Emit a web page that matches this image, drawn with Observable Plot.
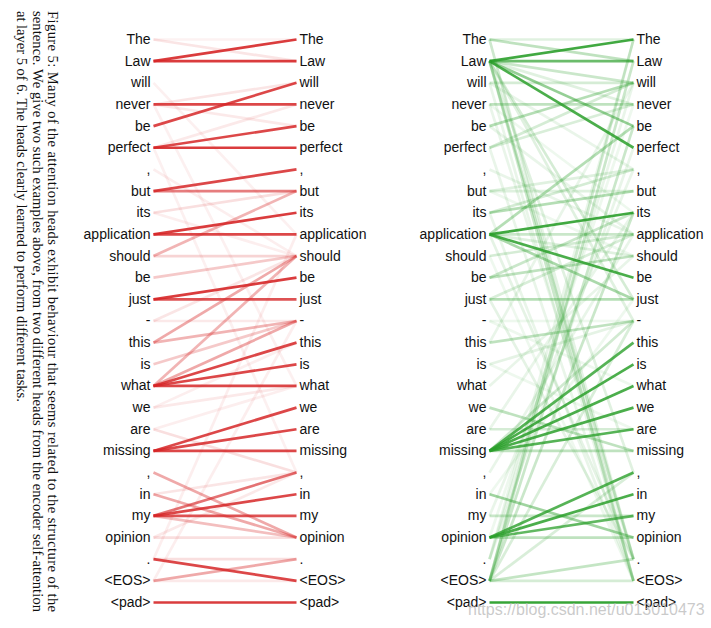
<!DOCTYPE html>
<html>
<head>
<meta charset="utf-8">
<script src="https://cdn.jsdelivr.net/npm/d3@7"></script>
<script src="https://cdn.jsdelivr.net/npm/@observablehq/plot@0.6"></script>
<style>
  html, body { margin: 0; padding: 0; background: #fff; }
  #wrap { position: relative; width: 711px; height: 628px; overflow: hidden; background: #fff; }
  #caption { position: absolute; left: 0; top: 0; }
  #left, #right { position: absolute; top: 0; }
  #left { left: 0; }
  #right { left: 396px; }
  #wm { position: absolute; left: 468px; top: 601px; font-family: "Liberation Sans", Arial, sans-serif;
        font-size: 16px; color: rgba(185,185,185,0.75); white-space: nowrap; }
</style>
</head>
<body>
<div id="wrap">
  <svg id="caption" width="64" height="628"></svg>
  <div id="left"></div>
  <div id="right"></div>
  <div id="wm"></div>
</div>
<script>
// ---- data ----
const tokens = ["The", "Law", "will", "never", "be", "perfect", ",", "but", "its", "application",
  "should", "be", "just", "-", "this", "is", "what", "we", "are", "missing", ",", "in", "my",
  "opinion", ".", "<EOS>", "<pad>"];
const sides = ["source", "target"];

// [source token index, target token index, attention weight]
const redLinks = [
  [0, 1, 0.12], [0, 0, 0.06], [1, 0, 0.9], [1, 1, 0.9],
  [3, 3, 0.85], [3, 2, 0.12], [3, 4, 0.1], [3, 16, 0.07], [2, 9, 0.07],
  [4, 2, 0.85], [5, 4, 0.85], [5, 5, 0.9], [5, 3, 0.1], [5, 20, 0.07],
  [6, 10, 0.08], [7, 6, 0.85], [7, 7, 0.6], [8, 7, 0.15], [8, 10, 0.08],
  [9, 8, 0.9], [9, 9, 0.85], [10, 10, 0.2], [10, 7, 0.35], [11, 10, 0.25],
  [12, 11, 0.9], [12, 12, 0.8], [13, 13, 0.1], [13, 10, 0.12],
  [14, 13, 0.35], [14, 10, 0.4], [15, 13, 0.25],
  [16, 13, 0.4], [16, 14, 0.85], [16, 15, 0.85], [16, 16, 0.85], [16, 10, 0.35],
  [17, 16, 0.1], [17, 14, 0.08], [18, 20, 0.15], [18, 16, 0.08],
  [19, 17, 0.85], [19, 18, 0.85], [19, 19, 0.85],
  [20, 23, 0.4], [21, 23, 0.4], [21, 20, 0.12],
  [22, 20, 0.65], [22, 21, 0.85], [22, 22, 0.8], [22, 23, 0.3],
  [23, 23, 0.15], [23, 20, 0.1], [24, 25, 0.85], [24, 24, 0.15], [24, 9, 0.08],
  [25, 24, 0.4], [25, 25, 0.1], [25, 13, 0.08], [26, 26, 0.9]
];

const greenLinks = [
  [0, 1, 0.3], [0, 0, 0.15], [0, 24, 0.12], [0, 25, 0.12],
  [1, 0, 0.9], [1, 1, 0.7], [1, 4, 0.5], [1, 5, 0.85], [1, 2, 0.25], [1, 3, 0.15],
  [1, 12, 0.2], [1, 13, 0.15], [1, 20, 0.15], [1, 24, 0.25], [1, 25, 0.25],
  [2, 2, 0.2], [2, 6, 0.1], [2, 25, 0.1], [3, 3, 0.3], [3, 8, 0.08], [3, 24, 0.1],
  [4, 2, 0.35], [4, 9, 0.1], [5, 2, 0.2], [5, 3, 0.18], [5, 25, 0.1],
  [6, 9, 0.1], [7, 7, 0.15], [7, 6, 0.15], [7, 10, 0.08],
  [8, 7, 0.35], [8, 6, 0.2], [8, 25, 0.1],
  [9, 8, 0.9], [9, 11, 0.85], [9, 12, 0.4], [9, 9, 0.25], [9, 4, 0.35], [9, 10, 0.15], [9, 24, 0.12],
  [10, 9, 0.2], [10, 25, 0.08], [11, 10, 0.3], [11, 8, 0.25],
  [12, 12, 0.35], [12, 9, 0.18], [12, 24, 0.12], [13, 13, 0.08], [13, 16, 0.08],
  [14, 13, 0.3], [14, 2, 0.1], [15, 13, 0.12], [15, 18, 0.08], [16, 10, 0.1],
  [17, 19, 0.3], [18, 18, 0.2], [18, 8, 0.1],
  [19, 14, 0.8], [19, 15, 0.85], [19, 16, 0.85], [19, 17, 0.85], [19, 18, 0.8],
  [19, 19, 0.3], [19, 13, 0.22],
  [20, 9, 0.1], [21, 23, 0.45], [21, 12, 0.08], [22, 22, 0.25], [22, 6, 0.1],
  [23, 20, 0.8], [23, 21, 0.85], [23, 22, 0.75], [23, 23, 0.3], [23, 3, 0.08],
  [24, 0, 0.1], [24, 2, 0.1], [24, 5, 0.1],
  [25, 0, 0.22], [25, 1, 0.25], [25, 4, 0.25], [25, 8, 0.25], [25, 13, 0.18],
  [25, 20, 0.18], [25, 24, 0.28], [25, 25, 0.2],
  [26, 26, 0.95]
];

const captionLines = [
  "Figure 5: Many of the attention heads exhibit behaviour that seems related to the structure of the",
  "sentence. We give two such examples above, from two different heads from the encoder self-attention",
  "at layer 5 of 6. The heads clearly learned to perform different tasks."
];
const watermark = "https://blog.csdn.net/u013010473";

// ---- drawing ----
function panel(links, color, width, marginLeft, marginRight) {
  const idx = d3.range(tokens.length);
  return Plot.plot({
    width, height: 628,
    marginTop: 39, marginBottom: 26, marginLeft, marginRight,
    x: {type: "point", domain: sides, padding: 0, round: false, axis: null},
    y: {type: "point", domain: idx, padding: 0, round: false, axis: null},
    opacity: {domain: [0, 1], range: [0, 1]},
    style: {background: "transparent", fontFamily: "'Liberation Sans', Arial, sans-serif", overflow: "visible"},
    marks: [
      Plot.link(links, {
        x1: () => sides[0], x2: () => sides[1],
        y1: d => d[0], y2: d => d[1],
        stroke: color, strokeOpacity: d => d[2], strokeWidth: 2.7
      }),
      Plot.text(idx, {x: () => sides[0], y: d => d, text: d => tokens[d], textAnchor: "end", dx: -3, fontSize: 14, fill: "#111"}),
      Plot.text(idx, {x: () => sides[1], y: d => d, text: d => tokens[d], textAnchor: "start", dx: 3, fontSize: 14, fill: "#111"})
    ]
  });
}

document.getElementById("left").append(panel(redLinks, "#d62728", 396, 153, 100));
document.getElementById("right").append(panel(greenLinks, "#2ca02c", 315, 93, 78));

// caption, rotated, justified lines
const capSvg = d3.select("#caption");
const baselines = [48, 32.5, 17];
captionLines.forEach((t, i) => {
  const txt = capSvg.append("text")
    .attr("transform", `translate(${baselines[i]},11) rotate(90)`)
    .attr("font-family", "'Liberation Serif', 'Times New Roman', serif")
    .attr("font-size", 14.5)
    .attr("fill", "#111")
    .text(t);
  if (i < captionLines.length - 1) txt.attr("textLength", 601).attr("lengthAdjust", "spacing");
});
document.getElementById("wm").textContent = watermark;
</script>
</body>
</html>
